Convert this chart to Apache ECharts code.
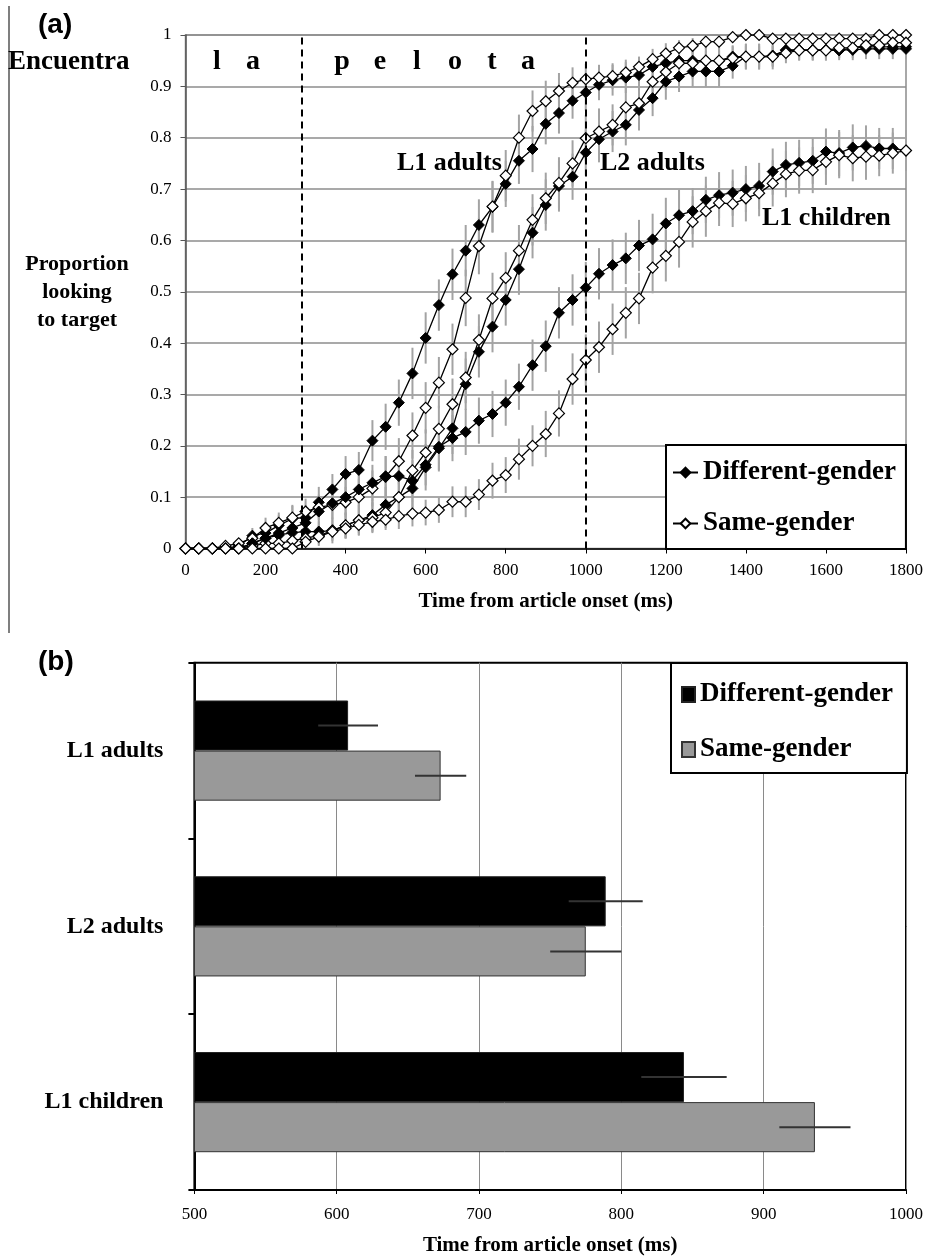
<!DOCTYPE html>
<html><head><meta charset="utf-8">
<script src="https://cdn.jsdelivr.net/npm/echarts/dist/echarts.min.js"></script>
<style>html,body{margin:0;padding:0;background:#fff}#c{width:926px;height:1257px}</style>
</head><body><div id="c"></div>
<script>
// ---------- Panel (a) data ----------
const times = [0,33,67,100,133,167,200,233,267,300,333,367,400,433,467,500,533,567,600,633,667,700,733,767,800,833,867,900,933,967,1000,1033,1067,1100,1133,1167,1200,1233,1267,1300,1333,1367,1400,1433,1467,1500,1533,1567,1600,1633,1667,1700,1733,1767,1800];
const xTicks = [0,200,400,600,800,1000,1200,1400,1600,1800];
const wordBoundaries = [290, 1000];

const l1aDiff = [0,0,0,0,0.005,0.025,0.03,0.045,0.058,0.06, 0.09,0.115,0.145,0.153,0.21,0.237,0.284,0.341,0.41,0.474, 0.534,0.58,0.63,0.665,0.71,0.755,0.778,0.827,0.848,0.872, 0.888,0.903,0.912,0.917,0.922,0.938,0.945,0.95,0.95,0.95, 0.95,0.958,0.958,0.958,0.96,0.97,0.97,0.97,0.97,0.97, 0.975,0.977,0.977,0.977,0.977];
const l1aSame = [0,0,0,0.005,0.01,0.02,0.04,0.05,0.06,0.072, 0.08,0.085,0.09,0.1,0.117,0.14,0.17,0.22,0.274,0.323, 0.388,0.488,0.589,0.666,0.726,0.8,0.852,0.871,0.891,0.907, 0.914,0.917,0.92,0.927,0.938,0.953,0.964,0.975,0.979,0.987, 0.987,0.996,1.0,1.0,0.993,0.993,0.993,0.993,0.993,0.993, 0.993,0.993,1.0,1.0,1.0];
const l2aDiff = [0,0,0,0,0,0.01,0.02,0.026,0.031,0.033, 0.033,0.035,0.045,0.055,0.065,0.085,0.1,0.117,0.158,0.195, 0.234,0.32,0.383,0.432,0.484,0.544,0.615,0.669,0.706,0.724, 0.771,0.797,0.812,0.825,0.854,0.877,0.909,0.919,0.929,0.929, 0.929,0.94,0.958,0.958,0.958,0.971,0.971,0.971,0.971,0.971, 0.971,0.973,0.973,0.973,0.973];
const l2aSame = [0,0,0,0,0,0.005,0.01,0.01,0.015,0.02, 0.025,0.035,0.045,0.055,0.06,0.07,0.1,0.152,0.187,0.233, 0.281,0.333,0.406,0.487,0.527,0.58,0.64,0.682,0.712,0.75, 0.799,0.812,0.825,0.859,0.867,0.909,0.928,0.945,0.945,0.95, 0.95,0.955,0.958,0.958,0.958,0.965,0.97,0.97,0.97,0.975, 0.975,0.98,0.98,0.985,0.985];
const l1cDiff = [0,0,0,0,0,0.01,0.02,0.03,0.04,0.05, 0.072,0.088,0.1,0.115,0.128,0.14,0.141,0.132,0.163,0.198, 0.215,0.227,0.249,0.262,0.284,0.315,0.357,0.394,0.459,0.484, 0.508,0.535,0.552,0.565,0.59,0.602,0.633,0.649,0.657,0.679, 0.688,0.693,0.7,0.706,0.734,0.747,0.751,0.755,0.773,0.77, 0.781,0.784,0.779,0.779,0.775];
const l1cSame = [0,0,0,0,0,0,0,0,0,0.013, 0.023,0.033,0.039,0.046,0.052,0.056,0.063,0.068,0.07,0.075, 0.091,0.091,0.105,0.132,0.143,0.174,0.2,0.223,0.263,0.33, 0.367,0.392,0.427,0.459,0.487,0.547,0.57,0.597,0.636,0.657, 0.673,0.671,0.682,0.692,0.711,0.729,0.736,0.737,0.753,0.766, 0.76,0.763,0.765,0.77,0.775];

const l1aDiffErr = [0,0,0,0,0.005,0.015,0.02,0.02,0.025,0.025, 0.03,0.03,0.035,0.035,0.04,0.045,0.045,0.05,0.05,0.05, 0.05,0.05,0.05,0.05,0.045,0.045,0.045,0.04,0.04,0.035, 0.035,0.03,0.03,0.03,0.025,0.025,0.025,0.02,0.02,0.02, 0.02,0.02,0.02,0.02,0.02,0.015,0.015,0.015,0.015,0.015, 0.015,0.015,0.015,0.015,0.015];
const l1aSameErr = [0,0,0,0.005,0.01,0.015,0.02,0.02,0.025,0.025, 0.025,0.03,0.03,0.035,0.035,0.04,0.045,0.045,0.05,0.05, 0.05,0.055,0.055,0.05,0.05,0.045,0.04,0.04,0.035,0.03, 0.03,0.025,0.025,0.025,0.02,0.02,0.02,0.015,0.015,0.015, 0.015,0.01,0.01,0.01,0.01,0.01,0.01,0.01,0.01,0.01, 0.01,0.01,0.01,0.01,0.01];
const l2aDiffErr = [0,0,0,0,0,0.01,0.015,0.015,0.02,0.02, 0.02,0.025,0.025,0.03,0.03,0.035,0.035,0.04,0.045,0.045, 0.05,0.05,0.05,0.05,0.05,0.05,0.05,0.05,0.05,0.045, 0.045,0.045,0.04,0.04,0.04,0.035,0.035,0.03,0.03,0.03, 0.03,0.025,0.025,0.025,0.025,0.02,0.02,0.02,0.02,0.02, 0.02,0.02,0.02,0.02,0.02];
const l2aSameErr = [0,0,0,0,0,0.005,0.01,0.01,0.015,0.015, 0.02,0.02,0.025,0.025,0.03,0.03,0.035,0.04,0.045,0.045, 0.05,0.05,0.05,0.05,0.05,0.05,0.05,0.05,0.05,0.045, 0.045,0.045,0.04,0.04,0.04,0.035,0.035,0.03,0.03,0.03, 0.025,0.025,0.025,0.025,0.02,0.02,0.02,0.02,0.02,0.02, 0.02,0.02,0.02,0.02,0.02];
const l1cDiffErr = [0,0,0,0,0,0.01,0.015,0.02,0.025,0.025, 0.03,0.03,0.035,0.035,0.035,0.04,0.04,0.04,0.04,0.045, 0.045,0.045,0.045,0.045,0.045,0.045,0.05,0.05,0.05,0.05, 0.05,0.05,0.05,0.05,0.05,0.05,0.05,0.05,0.045,0.045, 0.045,0.045,0.045,0.045,0.045,0.045,0.045,0.045,0.045,0.045, 0.045,0.04,0.04,0.04,0.04];
const l1cSameErr = [0,0,0,0,0,0,0,0,0,0.01, 0.015,0.015,0.02,0.02,0.02,0.02,0.025,0.025,0.025,0.025, 0.03,0.03,0.03,0.035,0.035,0.04,0.04,0.045,0.045,0.05, 0.05,0.05,0.05,0.05,0.05,0.05,0.05,0.05,0.05,0.05, 0.045,0.045,0.045,0.045,0.045,0.045,0.045,0.045,0.045,0.045, 0.045,0.045,0.04,0.04,0.04];

// ---------- Panel (b) data ----------
const barCats = ['L1 adults', 'L2 adults', 'L1 children'];
const barDiff = [608, 789, 844];
const barSame = [673, 775, 936];
const barDiffErr = [21, 26, 30];
const barSameErr = [18, 25, 25];
const bTicks = [500, 600, 700, 800, 900, 1000];

// ---------- build ----------
const SERIF = "'Liberation Serif','Times New Roman',serif";
const SANS = "'Liberation Sans',Arial,sans-serif";

function lineSeries(name, vals, filled) {
  return {
    type: 'line', name: name, xAxisIndex: 0, yAxisIndex: 0, z: 4,
    data: times.map((t, i) => [t, vals[i]]),
    symbol: 'diamond', symbolSize: 11, showAllSymbol: true,
    lineStyle: { color: '#000', width: 1.3 },
    itemStyle: filled ? { color: '#000', borderColor: '#000', borderWidth: 1 }
                      : { color: '#fff', borderColor: '#000', borderWidth: 1.2 },
    animation: false
  };
}
function errSeries(vals, errs) {
  return {
    type: 'custom', xAxisIndex: 0, yAxisIndex: 0, z: 2, silent: true,
    encode: { x: 0, y: 1 },
    data: times.map((t, i) => [t, vals[i], errs[i]]),
    renderItem: (params, api) => {
      const t = api.value(0), v = api.value(1), e = api.value(2);
      if (!e) return null;
      const p1 = api.coord([t, Math.max(0, v - e)]);
      const p2 = api.coord([t, v + e]);
      return { type: 'line', shape: { x1: p1[0], y1: p1[1], x2: p2[0], y2: p2[1] },
               style: { stroke: '#a3a3a3', lineWidth: 2 } };
    },
    animation: false
  };
}
function barErr(vals, errs, sign) {
  return {
    type: 'custom', xAxisIndex: 1, yAxisIndex: 1, z: 5, silent: true,
    encode: { x: 1, y: 0 },
    data: barCats.map((c, i) => [i, vals[i], errs[i]]),
    renderItem: (params, api) => {
      const c = api.value(0), v = api.value(1), e = api.value(2);
      const band = api.size([0, 1])[1];
      const p1 = api.coord([v - e, c]);
      const p2 = api.coord([v + e, c]);
      const y = p1[1] + sign * band * 0.143;
      return { type: 'line', shape: { x1: p1[0], y1: y, x2: p2[0], y2: y },
               style: { stroke: '#333', lineWidth: 2 } };
    },
    animation: false
  };
}
const plainNum = v => String(v);

const letters = [['l',217],['a',253],['p',342],['e',380],['l',417],['o',455],['t',492],['a',528]];
const graphics = [
  { type: 'line', shape: { x1: 9, y1: 6, x2: 9, y2: 633 }, style: { stroke: '#555', lineWidth: 1.5 } },
  { type: 'text', x: 38, y: 25, style: { text: '(a)', font: 'bold 28px ' + SANS, fill: '#000', textAlign: 'left', textVerticalAlign: 'middle' } },
  { type: 'text', x: 8, y: 62, style: { text: 'Encuentra', font: 'bold 27px ' + SERIF, fill: '#000', textAlign: 'left', textVerticalAlign: 'middle' } },
  { type: 'text', x: 77, y: 292, style: { text: 'Proportion\nlooking\nto target', font: 'bold 22px ' + SERIF, lineHeight: 28, fill: '#000', textAlign: 'center', textVerticalAlign: 'middle' } },
  { type: 'text', x: 397, y: 163, style: { text: 'L1 adults', font: 'bold 26px ' + SERIF, fill: '#000', textAlign: 'left', textVerticalAlign: 'middle' } },
  { type: 'text', x: 600, y: 163, style: { text: 'L2 adults', font: 'bold 26px ' + SERIF, fill: '#000', textAlign: 'left', textVerticalAlign: 'middle' } },
  { type: 'text', x: 762, y: 218, style: { text: 'L1 children', font: 'bold 26px ' + SERIF, fill: '#000', textAlign: 'left', textVerticalAlign: 'middle' } },
  { type: 'text', x: 38, y: 662, style: { text: '(b)', font: 'bold 28px ' + SANS, fill: '#000', textAlign: 'left', textVerticalAlign: 'middle' } }
].concat(letters.map(l => ({ type: 'text', x: l[1], y: 62, style: { text: l[0], font: 'bold 28px ' + SERIF, fill: '#000', textAlign: 'center', textVerticalAlign: 'middle' } })));
graphics.forEach(g => { g.z = 50; g.silent = true; });

const option = {
  backgroundColor: '#fff',
  animation: false,
  graphic: graphics,
  grid: [
    { left: 185.5, top: 35, width: 720.5, height: 513.5, show: true, borderColor: '#8c8c8c', borderWidth: 1.5, backgroundColor: 'transparent' },
    { left: 194.4, top: 662.7, width: 713.6, height: 530, show: true, borderColor: '#000', borderWidth: 2, backgroundColor: 'transparent' }
  ],
  xAxis: [
    { type: 'value', gridIndex: 0, min: 0, max: 1800, interval: 200,
      name: 'Time from article onset (ms)', nameLocation: 'middle', nameGap: 43,
      nameTextStyle: { fontFamily: SERIF, fontWeight: 'bold', fontSize: 21, color: '#000' },
      axisLine: { show: true, lineStyle: { color: '#000', width: 1.5 } },
      axisTick: { show: true, length: 5, lineStyle: { color: '#000' } },
      axisLabel: { margin: 14, fontFamily: SERIF, fontSize: 17, color: '#000', formatter: plainNum },
      splitLine: { show: false } },
    { type: 'value', gridIndex: 1, min: 500, max: 1000, interval: 100,
      name: 'Time from article onset (ms)', nameLocation: 'middle', nameGap: 45,
      nameTextStyle: { fontFamily: SERIF, fontWeight: 'bold', fontSize: 21, color: '#000' },
      axisLine: { show: true, lineStyle: { color: '#000', width: 2 } },
      axisTick: { show: true, length: 4, lineStyle: { color: '#000' } },
      axisLabel: { margin: 16, fontFamily: SERIF, fontSize: 17, color: '#000', formatter: plainNum },
      splitLine: { show: true, lineStyle: { color: '#8a8a8a', width: 1 } } }
  ],
  yAxis: [
    { type: 'value', gridIndex: 0, min: 0, max: 1, interval: 0.1,
      axisLine: { show: true, lineStyle: { color: '#555', width: 1.5 } },
      axisTick: { show: true, length: 5, lineStyle: { color: '#555' } },
      axisLabel: { margin: 14, fontFamily: SERIF, fontSize: 17, color: '#000' },
      splitLine: { show: true, lineStyle: { color: '#8c8c8c', width: 1.6 } } },
    { type: 'category', gridIndex: 1, data: barCats, inverse: true,
      axisLine: { show: true, lineStyle: { color: '#000', width: 2 } },
      axisTick: { show: true, length: 6, alignWithLabel: false, lineStyle: { color: '#000', width: 2 } },
      axisLabel: { margin: 31, fontFamily: SERIF, fontWeight: 'bold', fontSize: 24, color: '#000' },
      splitLine: { show: false } }
  ],
  legend: [
    { data: ['Different-gender', 'Same-gender'], orient: 'vertical', left: 666, top: 445,
      backgroundColor: '#fff', borderColor: '#000', borderWidth: 2, padding: [14, 10, 12, 6],
      itemGap: 24, itemWidth: 25, itemHeight: 12, selectedMode: false, z: 20,
      textStyle: { fontFamily: SERIF, fontWeight: 'bold', fontSize: 27, color: '#000' } },
    { data: ['Different-gender (b)', 'Same-gender (b)'], orient: 'vertical', left: 671, top: 663,
      backgroundColor: '#fff', borderColor: '#000', borderWidth: 2, padding: [18, 14, 10, 10],
      itemGap: 28, itemWidth: 13, itemHeight: 15, icon: 'rect', selectedMode: false, z: 20,
      formatter: n => n.replace(' (b)', ''),
      textStyle: { fontFamily: SERIF, fontWeight: 'bold', fontSize: 27, color: '#000' } }
  ],
  series: [
    errSeries(l1aDiff, l1aDiffErr), errSeries(l1aSame, l1aSameErr),
    errSeries(l2aDiff, l2aDiffErr), errSeries(l2aSame, l2aSameErr),
    errSeries(l1cDiff, l1cDiffErr), errSeries(l1cSame, l1cSameErr),
    Object.assign(lineSeries('Different-gender', l1aDiff, true), {
      markLine: { silent: true, symbol: ['none', 'none'], label: { show: false },
        lineStyle: { color: '#000', type: [7, 5], width: 2 },
        data: wordBoundaries.map(x => ({ xAxis: x })) } }),
    lineSeries('Same-gender', l1aSame, false),
    lineSeries('Different-gender', l2aDiff, true),
    lineSeries('Same-gender', l2aSame, false),
    lineSeries('Different-gender', l1cDiff, true),
    lineSeries('Same-gender', l1cSame, false),
    { type: 'bar', name: 'Different-gender (b)', xAxisIndex: 1, yAxisIndex: 1, data: barDiff,
      barGap: '0%', barCategoryGap: '43%', z: 3,
      itemStyle: { color: '#000', borderColor: '#222', borderWidth: 1 } },
    { type: 'bar', name: 'Same-gender (b)', xAxisIndex: 1, yAxisIndex: 1, data: barSame,
      barGap: '0%', barCategoryGap: '43%', z: 3,
      itemStyle: { color: '#999999', borderColor: '#333', borderWidth: 1 } },
    barErr(barDiff, barDiffErr, -1),
    barErr(barSame, barSameErr, 1)
  ]
};
const chart = echarts.init(document.getElementById('c'));
chart.setOption(option);
</script>
</body></html>
